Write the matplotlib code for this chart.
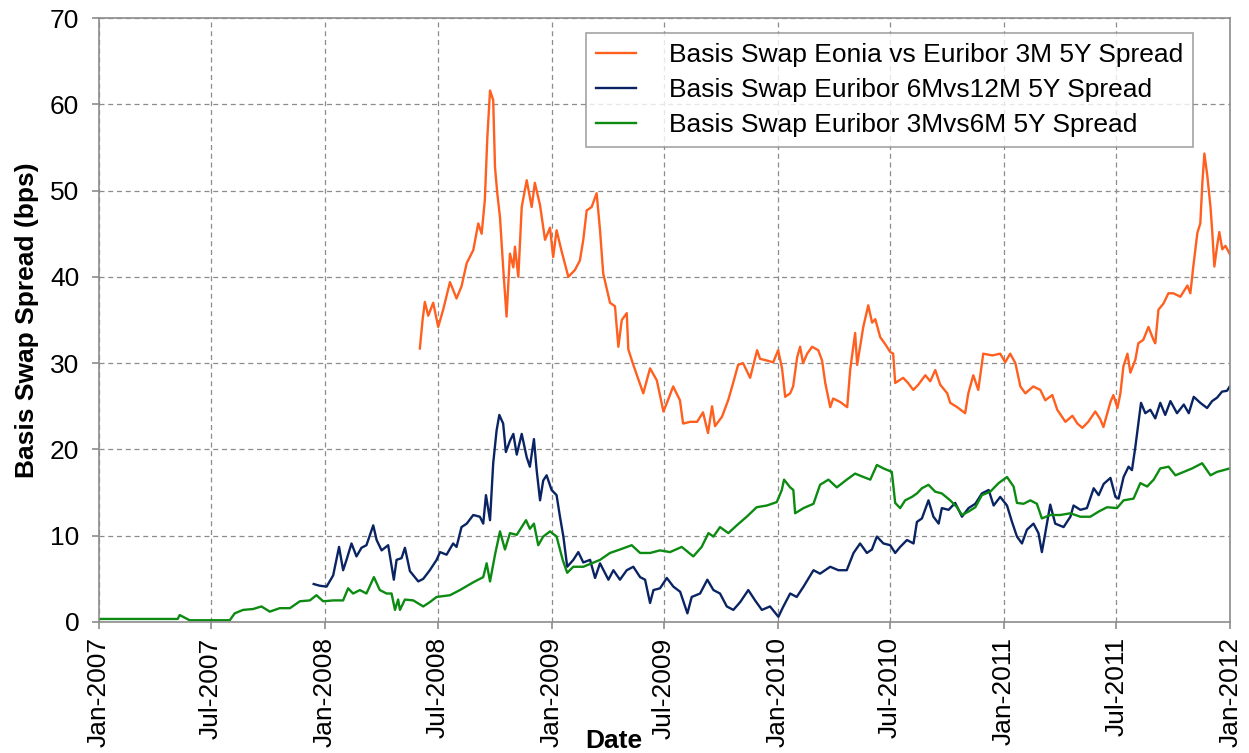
"""
Basis swap spreads 2007-2011: Eonia vs Euribor 3M, Euribor 6M vs 12M and Euribor 3M vs 6M (5Y tenor).
Values were read off the reference chart by eye, dates are kept as decimal years.
"""

import matplotlib
matplotlib.use("Agg")
import matplotlib.pyplot as plt
import matplotlib.dates as mdates
import numpy as np
import pandas as pd

plt.rcParams['font.family'] = ['Liberation Sans', 'DejaVu Sans']

#Data
eonia_years = [2008.419, 2008.431, 2008.441, 2008.456, 2008.478, 2008.500, 2008.522, 2008.552, 2008.581, 2008.603,
               2008.626, 2008.655, 2008.677, 2008.692, 2008.706, 2008.717, 2008.729, 2008.743, 2008.751, 2008.761,
               2008.773, 2008.787, 2008.802, 2008.817, 2008.832, 2008.839, 2008.854, 2008.869, 2008.891, 2008.913,
               2008.927, 2008.950, 2008.972, 2008.994, 2009.008, 2009.023, 2009.045, 2009.075, 2009.104, 2009.126,
               2009.141, 2009.156, 2009.178, 2009.200, 2009.215, 2009.229, 2009.259, 2009.281, 2009.296, 2009.311,
               2009.333, 2009.340, 2009.362, 2009.406, 2009.436, 2009.466, 2009.495, 2009.515, 2009.538, 2009.568,
               2009.582, 2009.613, 2009.644, 2009.670, 2009.692, 2009.710, 2009.723, 2009.754, 2009.781, 2009.803,
               2009.825, 2009.847, 2009.878, 2009.909, 2009.922, 2009.953, 2009.980, 2010.002, 2010.019, 2010.033,
               2010.055, 2010.068, 2010.086, 2010.099, 2010.112, 2010.130, 2010.152, 2010.179, 2010.196, 2010.210,
               2010.232, 2010.245, 2010.276, 2010.307, 2010.320, 2010.342, 2010.351, 2010.364, 2010.378, 2010.400,
               2010.417, 2010.431, 2010.453, 2010.475, 2010.497, 2010.510, 2010.519, 2010.554, 2010.576, 2010.599,
               2010.621, 2010.652, 2010.674, 2010.696, 2010.718, 2010.749, 2010.762, 2010.793, 2010.828, 2010.842,
               2010.864, 2010.886, 2010.908, 2010.948, 2010.983, 2011.005, 2011.027, 2011.050, 2011.072, 2011.094,
               2011.129, 2011.160, 2011.182, 2011.213, 2011.235, 2011.271, 2011.302, 2011.324, 2011.346, 2011.372,
               2011.403, 2011.425, 2011.439, 2011.470, 2011.483, 2011.501, 2011.514, 2011.527, 2011.545, 2011.558,
               2011.580, 2011.593, 2011.615, 2011.638, 2011.660, 2011.668, 2011.682, 2011.704, 2011.726, 2011.748,
               2011.779, 2011.810, 2011.823, 2011.836, 2011.854, 2011.867, 2011.876, 2011.885, 2011.898, 2011.912,
               2011.920, 2011.929, 2011.943, 2011.951, 2011.964, 2011.978, 2012.000]
eonia_bps = [31.7, 35.0, 37.1, 35.5, 37.0, 34.2, 36.2, 39.4, 37.5, 38.9,
             41.6, 43.1, 46.2, 45.0, 48.9, 56.1, 61.6, 60.5, 52.7, 49.7,
             46.9, 41.1, 35.4, 42.7, 41.1, 43.5, 40.0, 48.1, 51.2, 48.1,
             50.9, 48.3, 44.3, 45.7, 42.3, 45.4, 43.0, 40.0, 40.8, 41.9,
             44.3, 47.7, 48.1, 49.7, 45.4, 40.4, 37.0, 36.6, 31.9, 35.0,
             35.8, 31.6, 29.8, 26.5, 29.4, 28.0, 24.4, 25.7, 27.3, 25.7,
             23.0, 23.2, 23.2, 24.3, 21.9, 25.0, 22.7, 23.8, 25.7, 27.7,
             29.8, 30.0, 28.3, 31.5, 30.5, 30.3, 30.1, 31.5, 29.4, 26.1,
             26.5, 27.3, 30.7, 31.9, 30.0, 31.1, 31.9, 31.5, 30.3, 27.7,
             24.9, 25.9, 25.5, 24.9, 29.2, 33.5, 29.8, 31.9, 34.2, 36.7,
             34.7, 35.1, 33.0, 32.2, 31.3, 31.1, 27.7, 28.3, 27.7, 26.9,
             27.5, 28.6, 27.9, 29.2, 27.5, 26.5, 25.4, 24.9, 24.2, 26.5,
             28.6, 26.9, 31.1, 30.9, 31.1, 30.1, 31.1, 30.0, 27.3, 26.5,
             27.3, 26.9, 25.7, 26.3, 24.6, 23.2, 23.9, 23.0, 22.5, 23.2,
             24.4, 23.5, 22.6, 25.5, 26.3, 24.8, 26.5, 29.6, 31.1, 28.9,
             30.4, 32.3, 32.7, 34.2, 32.7, 32.3, 36.2, 36.9, 38.1, 38.1,
             37.7, 39.0, 38.1, 41.2, 45.1, 46.2, 50.9, 54.3, 51.7, 48.1,
             45.1, 41.2, 43.9, 45.2, 43.2, 43.6, 42.5]

euribor_6v12_years = [2007.950, 2007.977, 2008.007, 2008.036, 2008.062, 2008.080, 2008.095, 2008.117, 2008.139, 2008.161,
                      2008.183, 2008.213, 2008.228, 2008.250, 2008.279, 2008.304, 2008.316, 2008.338, 2008.353, 2008.375,
                      2008.412, 2008.434, 2008.463, 2008.493, 2008.508, 2008.537, 2008.566, 2008.581, 2008.603, 2008.626,
                      2008.655, 2008.684, 2008.699, 2008.711, 2008.729, 2008.743, 2008.758, 2008.770, 2008.787, 2008.799,
                      2008.817, 2008.832, 2008.847, 2008.869, 2008.891, 2008.905, 2008.923, 2008.935, 2008.950, 2008.964,
                      2008.979, 2009.001, 2009.023, 2009.038, 2009.053, 2009.070, 2009.097, 2009.119, 2009.141, 2009.171,
                      2009.193, 2009.215, 2009.252, 2009.274, 2009.303, 2009.333, 2009.362, 2009.392, 2009.414, 2009.436,
                      2009.451, 2009.480, 2009.510, 2009.539, 2009.569, 2009.601, 2009.620, 2009.657, 2009.689, 2009.716,
                      2009.745, 2009.775, 2009.804, 2009.834, 2009.870, 2009.900, 2009.930, 2009.966, 2010.003, 2010.025,
                      2010.055, 2010.084, 2010.114, 2010.158, 2010.187, 2010.232, 2010.268, 2010.305, 2010.335, 2010.364,
                      2010.394, 2010.416, 2010.438, 2010.467, 2010.497, 2010.519, 2010.541, 2010.571, 2010.600, 2010.615,
                      2010.637, 2010.666, 2010.688, 2010.711, 2010.725, 2010.755, 2010.784, 2010.814, 2010.843, 2010.873,
                      2010.902, 2010.932, 2010.954, 2010.983, 2011.013, 2011.035, 2011.057, 2011.079, 2011.101, 2011.130,
                      2011.152, 2011.167, 2011.182, 2011.204, 2011.226, 2011.263, 2011.293, 2011.307, 2011.337, 2011.366,
                      2011.396, 2011.418, 2011.440, 2011.470, 2011.492, 2011.506, 2011.528, 2011.550, 2011.565, 2011.580,
                      2011.595, 2011.605, 2011.624, 2011.646, 2011.668, 2011.690, 2011.712, 2011.735, 2011.764, 2011.794,
                      2011.816, 2011.838, 2011.867, 2011.897, 2011.919, 2011.941, 2011.963, 2011.985, 2011.997]
euribor_6v12_bps = [4.4, 4.2, 4.1, 5.4, 8.7, 6.0, 7.2, 9.1, 7.6, 8.6,
                    8.9, 11.2, 9.5, 8.3, 8.9, 4.9, 7.2, 7.4, 8.6, 5.9,
                    4.7, 5.0, 6.0, 7.2, 8.1, 7.8, 9.1, 8.7, 11.0, 11.4,
                    12.4, 12.2, 11.4, 14.7, 11.8, 18.4, 22.2, 24.0, 23.0, 19.7,
                    21.0, 21.8, 19.4, 21.8, 19.1, 18.0, 21.2, 17.6, 14.1, 16.4,
                    17.0, 15.3, 14.7, 12.2, 9.9, 6.4, 7.2, 8.1, 6.9, 7.2,
                    5.1, 6.8, 4.9, 6.0, 4.9, 6.0, 6.4, 5.2, 4.9, 2.2,
                    3.7, 3.9, 5.1, 4.1, 3.5, 1.0, 2.9, 3.3, 4.9, 3.7,
                    3.3, 1.8, 1.4, 2.3, 3.7, 2.5, 1.4, 1.8, 0.6, 1.8,
                    3.3, 2.9, 4.1, 6.0, 5.6, 6.4, 6.0, 6.0, 8.0, 9.1,
                    8.0, 8.4, 9.9, 9.1, 8.9, 8.0, 8.7, 9.5, 9.1, 11.6,
                    12.0, 14.1, 12.2, 11.4, 13.2, 13.0, 13.8, 12.2, 13.2, 13.7,
                    14.9, 15.3, 13.5, 14.5, 13.5, 11.6, 9.9, 9.1, 10.7, 11.4,
                    10.3, 8.1, 10.3, 13.6, 11.4, 11.0, 12.2, 13.5, 13.0, 13.2,
                    15.5, 14.7, 16.0, 16.7, 14.5, 14.3, 16.8, 18.0, 17.6, 20.3,
                    23.4, 25.4, 24.2, 24.6, 23.6, 25.4, 24.0, 25.6, 24.2, 25.2,
                    24.2, 26.1, 25.4, 24.8, 25.6, 26.0, 26.7, 26.8, 27.3]

euribor_3v6_years = [2007.004, 2007.349, 2007.358, 2007.402, 2007.579, 2007.601, 2007.638, 2007.682, 2007.719, 2007.756,
                     2007.800, 2007.845, 2007.889, 2007.933, 2007.962, 2007.992, 2008.036, 2008.080, 2008.102, 2008.124,
                     2008.154, 2008.183, 2008.216, 2008.242, 2008.272, 2008.294, 2008.309, 2008.323, 2008.331, 2008.353,
                     2008.390, 2008.434, 2008.463, 2008.493, 2008.552, 2008.596, 2008.655, 2008.699, 2008.714, 2008.729,
                     2008.751, 2008.773, 2008.795, 2008.817, 2008.847, 2008.869, 2008.888, 2008.905, 2008.923, 2008.942,
                     2008.964, 2008.994, 2009.023, 2009.050, 2009.070, 2009.097, 2009.141, 2009.178, 2009.215, 2009.259,
                     2009.303, 2009.355, 2009.392, 2009.436, 2009.480, 2009.524, 2009.576, 2009.627, 2009.664, 2009.694,
                     2009.716, 2009.745, 2009.782, 2009.819, 2009.863, 2009.907, 2009.952, 2009.996, 2010.018, 2010.028,
                     2010.055, 2010.069, 2010.077, 2010.114, 2010.158, 2010.187, 2010.224, 2010.261, 2010.305, 2010.342,
                     2010.379, 2010.409, 2010.438, 2010.467, 2010.504, 2010.519, 2010.541, 2010.563, 2010.593, 2010.615,
                     2010.637, 2010.666, 2010.696, 2010.725, 2010.762, 2010.792, 2010.814, 2010.843, 2010.873, 2010.902,
                     2010.939, 2010.976, 2011.013, 2011.042, 2011.057, 2011.086, 2011.116, 2011.145, 2011.167, 2011.204,
                     2011.248, 2011.293, 2011.337, 2011.381, 2011.418, 2011.455, 2011.499, 2011.528, 2011.572, 2011.602,
                     2011.632, 2011.661, 2011.690, 2011.727, 2011.757, 2011.794, 2011.831, 2011.875, 2011.912, 2011.941,
                     2011.970, 2011.997]
euribor_3v6_bps = [0.35, 0.35, 0.8, 0.2, 0.2, 1.0, 1.4, 1.5, 1.8, 1.2,
                   1.6, 1.6, 2.4, 2.5, 3.1, 2.4, 2.5, 2.5, 3.9, 3.3,
                   3.7, 3.3, 5.2, 3.7, 3.3, 3.3, 1.4, 2.6, 1.4, 2.6,
                   2.5, 1.8, 2.3, 2.9, 3.1, 3.7, 4.6, 5.2, 6.8, 4.7,
                   7.8, 10.5, 8.4, 10.3, 10.1, 11.0, 11.8, 10.8, 11.4, 8.9,
                   9.9, 10.5, 9.9, 7.2, 5.7, 6.4, 6.4, 6.8, 7.2, 8.0,
                   8.4, 8.9, 8.0, 8.0, 8.3, 8.1, 8.7, 7.6, 8.7, 10.3,
                   9.9, 11.0, 10.3, 11.2, 12.2, 13.3, 13.5, 13.9, 15.3, 16.5,
                   15.6, 15.3, 12.6, 13.2, 13.7, 15.9, 16.5, 15.6, 16.5, 17.2,
                   16.8, 16.5, 18.2, 17.8, 17.4, 13.8, 13.2, 14.1, 14.5, 14.9,
                   15.5, 15.9, 15.1, 14.9, 14.1, 13.3, 12.4, 12.8, 13.3, 14.7,
                   15.1, 16.1, 16.8, 15.7, 13.8, 13.7, 14.1, 13.7, 12.0, 12.4,
                   12.4, 12.6, 12.2, 12.2, 12.8, 13.3, 13.2, 14.1, 14.3, 16.1,
                   15.7, 16.5, 17.8, 18.0, 17.0, 17.4, 17.8, 18.4, 17.0, 17.4,
                   17.6, 17.8]

labels = ["Basis Swap Eonia vs Euribor 3M 5Y Spread",
          "Basis Swap Euribor 6Mvs12M 5Y Spread",
          "Basis Swap Euribor 3Mvs6M 5Y Spread"]
colors = ["#FF5F1F", "#0A2463", "#0C8A12"]


def to_dates(years):
    #decimal year -> timestamp
    years = np.asarray(years, dtype=float)
    return pd.Timestamp("2007-01-01") + pd.to_timedelta((years - 2007) * 365.25, unit="D")


fig = plt.figure(figsize=(12.49, 7.53), dpi=100)
ax = fig.add_axes([0.079, 0.174, 0.906, 0.802])

series = [(eonia_years, eonia_bps), (euribor_6v12_years, euribor_6v12_bps), (euribor_3v6_years, euribor_3v6_bps)]
for (years, bps), label, color in zip(series, labels, colors):
    ax.plot(to_dates(years), bps, color=color, lw=1.7, label=label)

ax.set_xlim(pd.Timestamp("2007-01-01"), pd.Timestamp("2012-01-01"))
ax.set_ylim(0, 70)
ax.set_yticks(range(0, 71, 10))
ax.xaxis.set_major_locator(mdates.MonthLocator(bymonth=[1, 7]))
ax.xaxis.set_major_formatter(mdates.DateFormatter("%b-%Y"))
plt.setp(ax.get_xticklabels(), rotation=90)

ax.grid(True, color="#8c8c8c", linestyle=(0, (4, 3)), linewidth=0.9)
for spine in ax.spines.values():
    spine.set_color("#8c8c8c")
    spine.set_linewidth(1.2)
ax.tick_params(axis="both", labelsize=19, length=5, color="#8c8c8c", width=1.2)
ax.tick_params(axis="y", pad=9)
ax.tick_params(axis="x", pad=6)

ax.set_ylabel("Basis Swap Spread (bps)", fontsize=19, fontweight="bold", labelpad=8)
ax.set_xlabel("Date", fontsize=19, fontweight="bold")
ax.xaxis.set_label_coords(0.455, -0.178)

leg = ax.legend(loc="upper right", bbox_to_anchor=(0.967, 0.975), fontsize=19, frameon=True,
                fancybox=False, handlelength=1.5, handletextpad=1.25, labelspacing=0.42,
                borderpad=0.38, borderaxespad=0)
leg.get_frame().set_edgecolor("#8c8c8c")
leg.get_frame().set_linewidth(1.2)

fig.savefig("out.png", dpi=100)
